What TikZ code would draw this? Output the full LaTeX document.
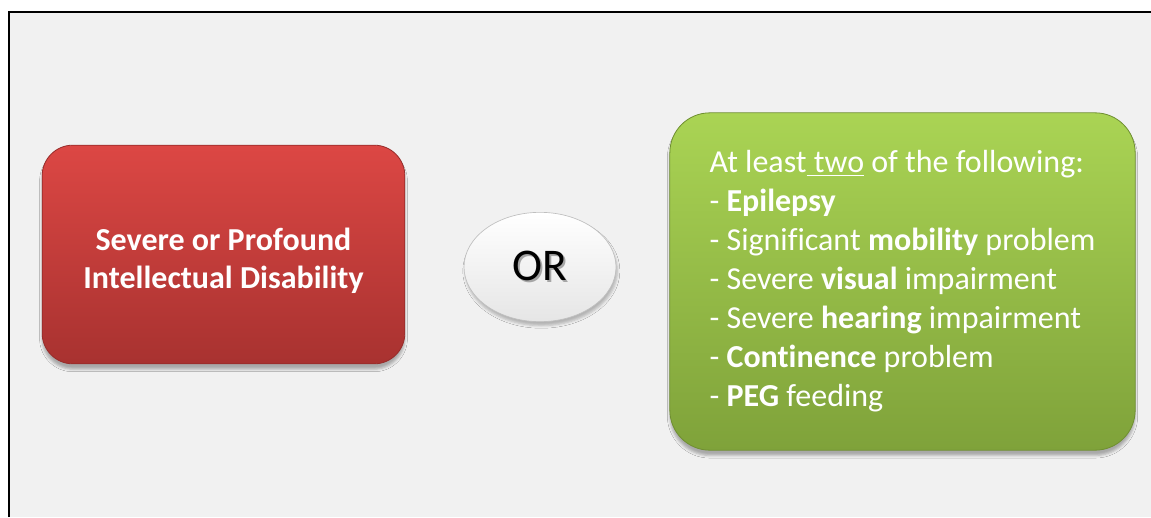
\documentclass[tikz,border=0pt]{standalone}
\usepackage{fontspec}
\setmainfont{Carlito}[Ligatures=NoCommon]
\usepackage{tikz}
\usetikzlibrary{shapes.geometric}
\usetikzlibrary{shadows.blur}
\usepackage{xcolor}

\definecolor{pagegray}{HTML}{F1F1F1}
\definecolor{redtop}{HTML}{DC4744}
\definecolor{redbottom}{HTML}{A83230}
\definecolor{rededge}{HTML}{972C2A}
\definecolor{greentop}{HTML}{AAD454}
\definecolor{greenbottom}{HTML}{7FA23A}
\definecolor{greenedge}{HTML}{6F8F31}

\tikzset{
	box/.style={rectangle, text=white, blur shadow={shadow xshift=0pt, shadow yshift=-4pt, shadow opacity=30}},
	redbox/.style={box, top color=redtop, bottom color=redbottom, draw=rededge, line width=0.6pt, rounded corners=23pt, minimum width=272pt, minimum height=164pt, align=center, font=\fontsize{24}{28.5}\selectfont\bfseries},
	greenbox/.style={box, top color=greentop, bottom color=greenbottom, draw=greenedge, line width=0.6pt, rounded corners=30pt, minimum width=349pt, minimum height=253pt, align=left, font=\fontsize{24}{29.25}\selectfont},
	orbubble/.style={ellipse, top color=white, bottom color=black!10, draw=black!25, line width=0.5pt, minimum width=114pt, minimum height=82pt, font=\fontsize{34}{40}\selectfont, blur shadow={shadow xshift=1pt, shadow yshift=-3pt, shadow opacity=25}}
}

\begin{document}
\begin{tikzpicture}[x=0.75pt, y=-0.75pt]
	\useasboundingbox (0,0) rectangle (1151,517);
	\fill[white] (0,0) rectangle (1151,517);
	\fill[pagegray] (8.5,12.5) rectangle (1151,517);
	\draw[line width=1.5pt] (8.5,517) |- (1151,12.5);

	\node[redbox] (cond) at (223.5,254.5) {\rule{0pt}{27pt}Severe or Profound\\Intellectual Disability};
	\node[orbubble] (or) at (540,267) {\makebox[0pt][l]{\hspace{1.5pt}\raisebox{-1.5pt}{\color{black!35}OR}}OR};
	\node[greenbox] (list) at (902.5,281.5) {At least\underline{\ two} of the following:\\
		- \textbf{Epilepsy}\\
		- Significant \textbf{mobility} problem\\
		- Severe \textbf{visual} impairment\\
		- Severe \textbf{hearing} impairment\\
		- \textbf{Continence} problem\\
		- \textbf{PEG} feeding};
\end{tikzpicture}
\end{document}
